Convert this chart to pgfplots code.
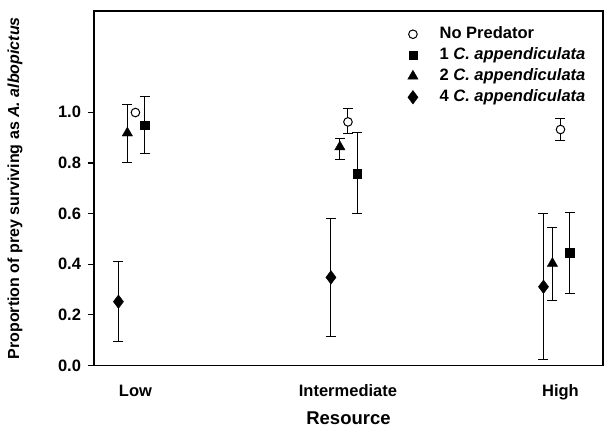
\documentclass[border=0pt]{standalone}
\usepackage{pgfplots}
\pgfplotsset{compat=1.18}
\usepackage{pgfplotstable}
\usepackage{fontspec}
\setmainfont{Liberation Sans}

% x: 1 = Low, 2 = Intermediate, 3 = High (groups offset a little)
\pgfplotstableread{
x     y      ep     em
1     0.999  0      0
2     0.962  0.051  0.046
3     0.932  0.043  0.045
}\nopred
\pgfplotstableread{
x     y      ep     em
2     0.962  0.051  0.046
3     0.932  0.043  0.045
}\nopreder
\pgfplotstableread{
x      y      ep     em
1.043  0.949  0.113  0.111
2.043  0.758  0.162  0.158
3.043  0.445  0.158  0.159
}\onepred
\pgfplotstableread{
x      y      ep     em
0.962  0.918  0.114  0.118
1.962  0.863  0.033  0.050
2.962  0.403  0.141  0.147
}\twopred
\pgfplotstableread{
x      y      ep     em
0.920  0.252  0.159  0.158
1.920  0.348  0.231  0.232
2.920  0.311  0.289  0.289
}\fourpred

\pgfplotsset{
  ebar/.style={
    error bars/.cd, y dir=both, y explicit,
    error bar style={line width=1pt, black},
    error mark options={rotate=90, mark size=5pt, line width=1pt, black},
  },
}

\begin{document}
\begin{tikzpicture}
\begin{axis}[
  scale only axis,
  width=509pt, height=354.5pt,
  xmin=0.805, xmax=3.2,
  ymin=0, ymax=1.4,
  xtick={1,2,3},
  xticklabels={Low,Intermediate,High},
  ytick={0,0.2,0.4,0.6,0.8,1.0},
  ytick pos=left,
  tick align=outside,
  major tick length=6pt,
  xtick style={draw=none},
  ytick style={line width=1.3pt, black},
  axis line style={line width=1.6pt},
  ticklabel style={font=\bfseries\fontsize{16.5}{19}\selectfont},
  yticklabel style={xshift=-3.5pt, /pgf/number format/.cd, fixed, fixed zerofill, precision=1, assume math mode=true},
  xticklabel style={anchor=base, yshift=-25pt},
  xlabel={Resource},
  xlabel style={font=\bfseries\fontsize{18.5}{22}\selectfont, at={(rel axis cs:0.5,0)}, anchor=base, yshift=-59.5pt},
  ylabel={Proportion of prey surviving as \textit{A. albopictus}},
  every axis y label/.style={font=\bfseries\fontsize{16}{19}\selectfont, at={(rel axis cs:0,0.5)}, rotate=90, anchor=center, yshift=79pt},
  legend style={draw=none, fill=none, at={(rel axis cs:0.616,0.959)}, anchor=north west,
    inner sep=0pt, row sep=4pt,
    font=\bfseries\fontsize{16.5}{19}\selectfont,
    nodes={inner sep=0.5pt, text height=12pt, text depth=4pt},
    /tikz/every odd column/.append style={column sep=21pt}},
  legend cell align=left,
]
\addplot[forget plot, only marks, mark=none, ebar] table[y error plus=ep, y error minus=em] {\nopreder};
\addplot[only marks, mark=*, mark size=4.3pt, mark options={fill=white, draw=black, line width=1pt}] table {\nopred};
\addlegendentry{No Predator}
\addplot[only marks, mark=square*, mark size=4.2pt, black, ebar] table[y error plus=ep, y error minus=em] {\onepred};
\addlegendentry{1 \textit{C. appendiculata}}
\addplot[only marks, mark=triangle*, mark size=6pt, black, ebar] table[y error plus=ep, y error minus=em] {\twopred};
\addlegendentry{2 \textit{C. appendiculata}}
\addplot[only marks, mark=diamond*, mark size=6.8pt, black, ebar] table[y error plus=ep, y error minus=em] {\fourpred};
\addlegendentry{4 \textit{C. appendiculata}}
\coordinate (bbsw) at (rel axis cs:0,0);
\coordinate (bbne) at (rel axis cs:1,1);
\end{axis}
\path ([shift={(-94pt,-66.5pt)}]bbsw) rectangle ([shift={(8pt,11pt)}]bbne);
\end{tikzpicture}
\end{document}
